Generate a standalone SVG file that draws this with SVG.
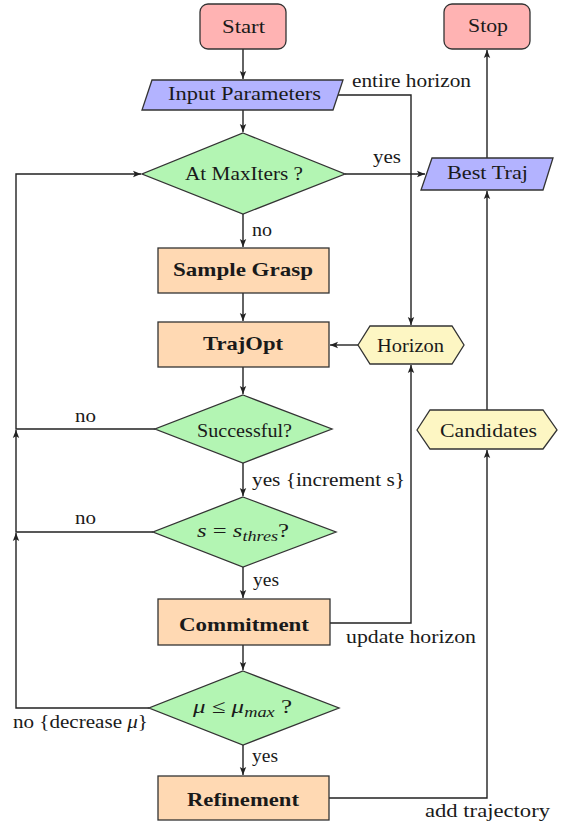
<svg xmlns="http://www.w3.org/2000/svg" width="564" height="825" viewBox="0 0 564 825">
<defs>
<style>
.t{font-family:'Liberation Serif','DejaVu Serif',serif;font-size:19px;fill:#1a1a1a}
.b{font-weight:bold}
.i{font-style:italic}
.term{fill:#ffb3b3;stroke:#333;stroke-width:1.3}
.io{fill:#b3b3ff;stroke:#333;stroke-width:1.3}
.dec{fill:#b3f5b3;stroke:#333;stroke-width:1.3}
.proc{fill:#ffd9b3;stroke:#333;stroke-width:1.3}
.hex{fill:#fdf6c3;stroke:#333;stroke-width:1.3}
.c{fill:none;stroke:#222;stroke-width:1.4}
</style>
<marker id="ah" markerUnits="userSpaceOnUse" markerWidth="9" markerHeight="8" refX="8" refY="4" orient="auto">
<path d="M0,0.8 L8,4 L0,7.2 L1.8,4 z" fill="#222"/>
</marker>
</defs>
<rect width="564" height="825" fill="#fff"/>
<g id="connectors">
<path class="c" d="M243,49 V79" marker-end="url(#ah)"/>
<path class="c" d="M243,110 V132" marker-end="url(#ah)"/>
<path class="c" d="M338,95 H411 V325" marker-end="url(#ah)"/>
<path class="c" d="M345,174 H425" marker-end="url(#ah)"/>
<path class="c" d="M243,214 V247" marker-end="url(#ah)"/>
<path class="c" d="M243,293 V321" marker-end="url(#ah)"/>
<path class="c" d="M358,345 H330" marker-end="url(#ah)"/>
<path class="c" d="M243,367 V394" marker-end="url(#ah)"/>
<path class="c" d="M155,429 H16 V174 H141" marker-end="url(#ah)"/>
<path class="c" d="M153,532 H16 V430" marker-end="url(#ah)"/>
<path class="c" d="M149,708 H16 V533" marker-end="url(#ah)"/>
<path class="c" d="M243,463 V496" marker-end="url(#ah)"/>
<path class="c" d="M243,567 V598" marker-end="url(#ah)"/>
<path class="c" d="M330,623 H411 V365" marker-end="url(#ah)"/>
<path class="c" d="M243,645 V670" marker-end="url(#ah)"/>
<path class="c" d="M243,745 V775" marker-end="url(#ah)"/>
<path class="c" d="M329,798 H487 V450" marker-end="url(#ah)"/>
<path class="c" d="M487,410 V191" marker-end="url(#ah)"/>
<path class="c" d="M487,158 V50" marker-end="url(#ah)"/>
<text class="t" x="352" y="87" textLength="119" lengthAdjust="spacingAndGlyphs">entire horizon</text>
<text class="t" x="373" y="163" textLength="28" lengthAdjust="spacingAndGlyphs">yes</text>
<text class="t" x="252" y="236" textLength="20" lengthAdjust="spacingAndGlyphs">no</text>
<text class="t" x="75" y="422" textLength="21" lengthAdjust="spacingAndGlyphs">no</text>
<text class="t" x="252" y="486" textLength="153" lengthAdjust="spacingAndGlyphs">yes {increment s}</text>
<text class="t" x="75" y="524" textLength="21" lengthAdjust="spacingAndGlyphs">no</text>
<text class="t" x="253" y="586" textLength="26" lengthAdjust="spacingAndGlyphs">yes</text>
<text class="t" x="346" y="643" textLength="130" lengthAdjust="spacingAndGlyphs">update horizon</text>
<text class="t" x="13" y="728" textLength="135" lengthAdjust="spacingAndGlyphs">no {decrease <tspan class="i">μ</tspan>}</text>
<text class="t" x="252" y="762" textLength="26" lengthAdjust="spacingAndGlyphs">yes</text>
<text class="t" x="425" y="817" textLength="125" lengthAdjust="spacingAndGlyphs">add trajectory</text>
</g>
<g id="start">
<rect class="term" x="200" y="4" width="86" height="45" rx="8"/>
<text class="t" x="222" y="33" textLength="43" lengthAdjust="spacingAndGlyphs">Start</text>
</g>
<g id="stop">
<rect class="term" x="444" y="4" width="86" height="45" rx="8"/>
<text class="t" x="468" y="32" textLength="40" lengthAdjust="spacingAndGlyphs">Stop</text>
</g>
<g id="input">
<polygon class="io" points="152,80 343,80 333,110 142,110"/>
<text class="t" x="168" y="100" textLength="153" lengthAdjust="spacingAndGlyphs">Input Parameters</text>
</g>
<g id="maxiters">
<polygon class="dec" points="243,133 345,174 243,214 142,174"/>
<text class="t" x="185" y="180" textLength="118" lengthAdjust="spacingAndGlyphs">At MaxIters ?</text>
</g>
<g id="besttraj">
<polygon class="io" points="432,158 553,158 543,190 421,190"/>
<text class="t" x="447" y="179" textLength="81" lengthAdjust="spacingAndGlyphs">Best Traj</text>
</g>
<g id="samplegrasp">
<rect class="proc" x="158" y="248" width="171" height="45"/>
<text class="t b" x="173" y="276" textLength="140" lengthAdjust="spacingAndGlyphs">Sample Grasp</text>
</g>
<g id="trajopt">
<rect class="proc" x="158" y="322" width="171" height="45"/>
<text class="t b" x="203" y="350" textLength="80" lengthAdjust="spacingAndGlyphs">TrajOpt</text>
</g>
<g id="horizon">
<polygon class="hex" points="358,345 370,326 452,326 464,345 452,364 370,364"/>
<text class="t" x="377" y="352" textLength="67" lengthAdjust="spacingAndGlyphs">Horizon</text>
</g>
<g id="successful">
<polygon class="dec" points="243,395 332,429 243,463 155,429"/>
<text class="t" x="197" y="437" textLength="95" lengthAdjust="spacingAndGlyphs">Successful?</text>
</g>
<g id="candidates">
<polygon class="hex" points="417,430 430,410 543,410 557,430 543,449 430,449"/>
<text class="t" x="440" y="437" textLength="97" lengthAdjust="spacingAndGlyphs">Candidates</text>
</g>
<g id="sthres">
<polygon class="dec" points="243,497 336,532 243,567 153,532"/>
<text class="t" x="197" y="537" textLength="92" lengthAdjust="spacingAndGlyphs"><tspan class="i">s</tspan> = <tspan class="i">s</tspan><tspan class="i" font-size="14" dy="4">thres</tspan><tspan dy="-4">?</tspan></text>
</g>
<g id="commitment">
<rect class="proc" x="158" y="599" width="172" height="46"/>
<text class="t b" x="179" y="631" textLength="130" lengthAdjust="spacingAndGlyphs">Commitment</text>
</g>
<g id="mu">
<polygon class="dec" points="243,671 339,708 243,745 149,708"/>
<text class="t" x="193" y="713" textLength="99" lengthAdjust="spacingAndGlyphs"><tspan class="i">μ</tspan> ≤ <tspan class="i">μ</tspan><tspan class="i" font-size="14" dy="4">max</tspan><tspan dy="-4"> ?</tspan></text>
</g>
<g id="refinement">
<rect class="proc" x="158" y="776" width="171" height="44"/>
<text class="t b" x="187" y="806" textLength="112" lengthAdjust="spacingAndGlyphs">Refinement</text>
</g>
</svg>
